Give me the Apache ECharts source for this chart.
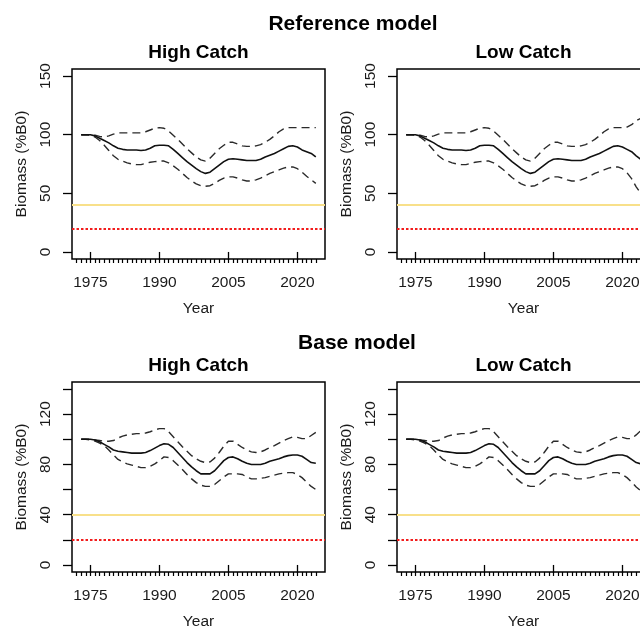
<!DOCTYPE html>
<html>
<head>
<meta charset="utf-8">
<script src="https://cdn.jsdelivr.net/npm/echarts@6/dist/echarts.min.js"></script>
<style>
  html, body { margin: 0; padding: 0; background: #fff; }
  #chart { width: 640px; height: 631px; }
</style>
</head>
<body>
<div id="chart"></div>
<script>
// Years of the biomass trajectories
const years = [1973,1974,1975,1976,1977,1978,1979,1980,1981,1982,1983,1984,1985,1986,1987,1988,1989,1990,
  1991,1992,1993,1994,1995,1996,1997,1998,1999,2000,2001,2002,2003,2004,2005,2006,2007,2008,2009,2010,
  2011,2012,2013,2014,2015,2016,2017,2018,2019,2020,2021,2022,2023,2024];

// Reference model, high catch (median and interval bounds, %B0)
const refHighMed = [100,100,100,99,97,95,93,90.5,88.5,87.5,87,87,87,86.5,87,88.5,90.5,91,
  91,90.5,87.5,84,80.5,77,74,71,68.5,67,68,71,74,77,79,79.5,79,78.5,78,78,
  78,79,81,82.5,84,86,88,90,90.5,89.5,87,85.5,84,81];
const refHighUpp = [100,100,100,99.5,98.5,98,99,100.5,101.5,101.5,101.5,101.5,101.5,101.5,102.5,104,105.5,106,
  105.5,103,99.5,96,92,88,84.5,81,78.5,77.5,80,84,88,91,93.5,93.5,92,90.5,90,90,
  90.5,91.5,93.5,96,99,102.5,105,106,106,106,106,106,106,106];
const refHighLow = [100,100,99.5,98,95,91,86.5,82,79,77.5,76,75,74.5,74.5,75.5,76.5,77,77.5,
  77.5,76,73.5,70.5,67,63.5,60.5,58,56.5,56,56.5,58.5,61,63,64,64,63,61.5,60.5,60.5,
  61.5,63,65,67,68.5,70,71.5,72.5,72.5,71,68,64.5,61.5,58.5];

// Reference model, low catch
const refLowMed = [100,100,100,99,97,95,93,90.5,88.5,87.5,87,87,87,86.5,87,88.5,90.5,91,
  91,90.5,87.5,84,80.5,77,74,71,68.5,67,68,71,74,77,79,79.5,79,78.5,78,78,
  78,79,81,82.5,84,86,88,90,90.5,89.5,87.5,85.5,82,79];
const refLowUpp = [100,100,100,99.5,98.5,98,99,100.5,101.5,101.5,101.5,101.5,101.5,101.5,102.5,104,105.5,106,
  105.5,103,99.5,96,92,88,84.5,81,78.5,77.5,80,84,88,91,93.5,93.5,92,90.5,90,90,
  90.5,91.5,93.5,96,99,102.5,105,106,106,106,106.5,108.5,112,114];
const refLowLow = [100,100,99.5,98,95,91,86.5,82,79,77.5,76,75,74.5,74.5,75.5,76.5,77,77.5,
  77.5,76,73.5,70.5,67,63.5,60.5,58,56.5,56,56.5,58.5,61,63,64,64,63,61.5,60.5,60.5,
  61.5,63,65,67,68.5,70,71.5,72.5,72.5,71,67.5,62.5,55.5,50];

// Base model, high catch
const baseHighMed = [100,100,100,99.5,98,96,94,91.5,90.5,90,89.5,89,89,89,89.5,91,93,95,
  96.5,96,93.5,89.5,85.5,81.5,78,75,72.5,72.5,72.5,75,79,83,85.5,86,84.5,82.5,81,80,
  80,80,81,82.5,83.5,84.5,86,87,87.5,87.5,86.5,84,81.5,81];
const baseHighUpp = [100,100,100,99.5,99,98.5,98.5,99,101,102.5,103.5,104,104.5,104.5,105,106,107.5,108.5,
  108.5,106,102,98,94,90.5,87,84.5,82.5,81.5,82,85,89.5,94.5,98.5,98.5,96,93.5,91.5,90,
  89.5,90,91.5,93.5,95,97,99,100.5,102,101.5,100.5,100.5,103,105.5];
const baseHighLow = [100,100,99.5,98.5,97,95,91.5,87.5,84,82,80.5,79.5,78.5,77.5,77.5,78.5,80.5,83,
  86,85.5,83,79.5,76,72,68.5,65.5,63.5,62.5,62.5,64,67,70,72.5,72.5,72.5,72,70,68.5,
  68.5,69,69.5,70.5,71.5,72.5,73,73.5,73.5,72,69.5,66,62.5,60];

// Base model, low catch
const baseLowMed = [100,100,100,99.5,98,96,94,91.5,90.5,90,89.5,89,89,89,89.5,91,93,95,
  96.5,96,93.5,89.5,85.5,81.5,78,75,72.5,72.5,72.5,75,79,83,85.5,86,84.5,82.5,81,80,
  80,80,81,82.5,83.5,84.5,86,87,87.5,87.5,86.5,84,81.5,80.5];
const baseLowUpp = [100,100,100,99.5,99,98.5,98.5,99,101,102.5,103.5,104,104.5,104.5,105,106,107.5,108.5,
  108.5,106,102,98,94,90.5,87,84.5,82.5,81.5,82,85,89.5,94.5,98.5,98.5,96,93.5,91.5,90,
  89.5,90,91.5,93.5,95,97,99,100.5,102,101.5,100.5,100.5,103.5,107];
const baseLowLow = [100,100,99.5,98.5,97,95,91.5,87.5,84,82,80.5,79.5,78.5,77.5,77.5,78.5,80.5,83,
  86,85.5,83,79.5,76,72,68.5,65.5,63.5,62.5,62.5,64,67,70,72.5,72.5,72.5,72,70,68.5,
  68.5,69,69.5,70.5,71.5,72.5,73,73.5,73.5,72,69.5,66,62,59];

// Axis ticks and labels
const yearLabels = [1975, 1990, 2005, 2020];
const yearMinorTicks = [];
for (let y = 1972; y <= 2024; y++) yearMinorTicks.push(y);
const refYTicks = [0, 50, 100, 150];
const refYLabels = [0, 50, 100, 150];
const baseYTicks = [0, 20, 40, 60, 80, 100, 120, 140];
const baseYLabels = [0, 40, 80, 120];

// Reference points (%B0)
const targetLevel = 40;
const limitLevel = 20;

const FONT = '"Liberation Sans", Arial, sans-serif';
const TEXT = '#1a1a1a';

const panels = [
  { title: 'High Catch', left: 72,  top: 69,  yMin: -6,   yMax: 156,   yTicks: refYTicks,  yLabels: refYLabels,  med: refHighMed,  upp: refHighUpp,  low: refHighLow },
  { title: 'Low Catch',  left: 397, top: 69,  yMin: -6,   yMax: 156,   yTicks: refYTicks,  yLabels: refYLabels,  med: refLowMed,   upp: refLowUpp,   low: refLowLow },
  { title: 'High Catch', left: 72,  top: 382, yMin: -5.6, yMax: 145.6, yTicks: baseYTicks, yLabels: baseYLabels, med: baseHighMed, upp: baseHighUpp, low: baseHighLow },
  { title: 'Low Catch',  left: 397, top: 382, yMin: -5.6, yMax: 145.6, yTicks: baseYTicks, yLabels: baseYLabels, med: baseLowMed,  upp: baseLowUpp,  low: baseLowLow }
];
const PW = 253, PH = 190;

const grids = [], xAxes = [], yAxes = [], series = [], graphics = [];
const axisText = { fontSize: 15.5, color: TEXT, fontFamily: FONT };
const plain = v => String(v);

panels.forEach((p, i) => {
  grids.push({
    left: p.left, top: p.top, width: PW, height: PH,
    show: true, borderColor: '#000', borderWidth: 1.5, backgroundColor: 'transparent',
    containLabel: false, outerBoundsMode: 'none'
  });
  xAxes[i] = {
    gridIndex: i, type: 'value', min: 1971, max: 2026, position: 'bottom',
    axisLine: { show: false }, splitLine: { show: false },
    axisTick: { show: true, customValues: yearLabels, length: 8, lineStyle: { color: '#000', width: 1.3 } },
    axisLabel: Object.assign({ customValues: yearLabels, margin: 16, formatter: plain }, axisText),
    name: 'Year', nameLocation: 'middle', nameGap: 42,
    nameTextStyle: axisText
  };
  xAxes[i + 4] = {
    gridIndex: i, type: 'value', min: 1971, max: 2026, position: 'bottom',
    axisLine: { show: false }, splitLine: { show: false },
    axisTick: { show: true, customValues: yearMinorTicks, length: 4, lineStyle: { color: '#000', width: 1.2 } },
    axisLabel: { show: false }
  };
  yAxes[i] = {
    gridIndex: i, type: 'value', min: p.yMin, max: p.yMax,
    axisLine: { show: false }, splitLine: { show: false },
    axisTick: { show: true, customValues: p.yTicks, length: 9, lineStyle: { color: '#000', width: 1.3 } },
    axisLabel: Object.assign({ customValues: p.yLabels, rotate: 90, margin: 18, formatter: plain }, axisText),
    name: 'Biomass (%B0)', nameLocation: 'middle', nameRotate: 90, nameGap: 42,
    nameTextStyle: axisText
  };

  const pairs = arr => years.map((y, k) => [y, arr[k]]);
  series.push({
    type: 'line', xAxisIndex: i, yAxisIndex: i, data: pairs(p.upp),
    symbol: 'none', silent: true, animation: false, z: 3,
    lineStyle: { color: '#2a2a2a', width: 1.4, type: [8, 5] }
  });
  series.push({
    type: 'line', xAxisIndex: i, yAxisIndex: i, data: pairs(p.low),
    symbol: 'none', silent: true, animation: false, z: 3,
    lineStyle: { color: '#2a2a2a', width: 1.4, type: [8, 5] }
  });
  series.push({
    type: 'line', xAxisIndex: i, yAxisIndex: i, data: pairs(p.med),
    symbol: 'none', silent: true, animation: false, z: 4,
    lineStyle: { color: '#111', width: 1.6, type: 'solid' },
    markLine: {
      silent: true, symbol: ['none', 'none'], animation: false, label: { show: false },
      data: [
        { yAxis: targetLevel, lineStyle: { color: '#F8E08A', width: 2, type: 'solid' } },
        { yAxis: limitLevel, lineStyle: { color: '#F21C1C', width: 2, type: [2.5, 2] } }
      ]
    }
  });

  graphics.push({
    type: 'text', x: p.left + PW / 2, y: p.top - 16,
    style: { text: p.title, fill: '#000', font: 'bold 19px ' + FONT, textAlign: 'center', textVerticalAlign: 'middle' }
  });
});

graphics.push({
  type: 'text', x: 353, y: 24,
  style: { text: 'Reference model', fill: '#000', font: 'bold 21px ' + FONT, textAlign: 'center', textVerticalAlign: 'middle' }
});
graphics.push({
  type: 'text', x: 357, y: 343,
  style: { text: 'Base model', fill: '#000', font: 'bold 21px ' + FONT, textAlign: 'center', textVerticalAlign: 'middle' }
});

const chart = echarts.init(document.getElementById('chart'), null, { renderer: 'canvas' });
chart.setOption({
  animation: false,
  backgroundColor: '#fff',
  grid: grids,
  xAxis: xAxes,
  yAxis: yAxes,
  series: series,
  graphic: graphics
});
</script>
</body>
</html>
